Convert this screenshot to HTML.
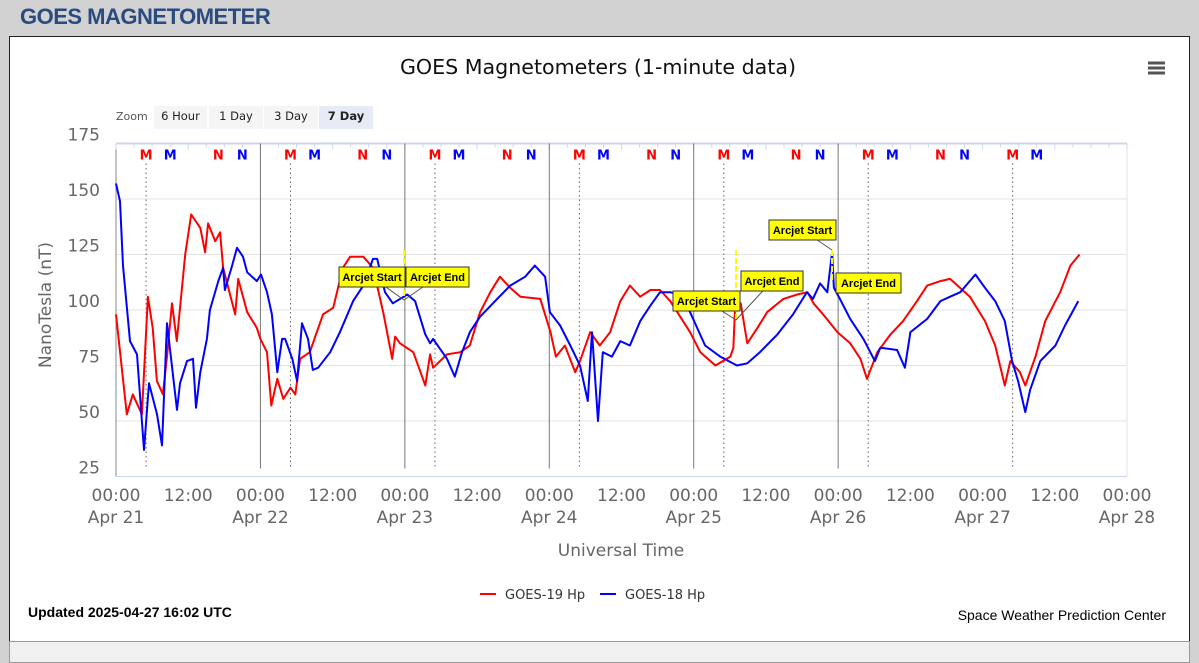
<!DOCTYPE html>
<html><head><meta charset="utf-8"><style>
body{margin:0;width:1199px;height:649px;background:#d2d2d2;overflow:hidden;font-family:"Liberation Sans",sans-serif;}
#hdr{position:absolute;left:20px;top:4px;font:bold 22px "Liberation Sans",sans-serif;color:#2a4a80;letter-spacing:-0.5px}
#panel{position:absolute;left:9px;top:36px;width:1179px;height:604px;background:#fff;border:1px solid #222;}
#bottom{position:absolute;left:9px;top:641px;width:1179px;height:20px;background:#f0f0f0;border:1px solid #999}
</style></head><body>
<div id="hdr">GOES MAGNETOMETER</div>
<div id="panel"></div>
<div id="bottom"></div>
<svg id="c" width="1199" height="649" style="position:absolute;left:0;top:0" font-family="DejaVu Sans, sans-serif"></svg>
<script>
const dayLabels=["Apr 21","Apr 22","Apr 23","Apr 24","Apr 25","Apr 26","Apr 27","Apr 28"];
const yTicks=[25,50,75,100,125,150,175];
const redT=[0,1.8,2.8,4.3,5.3,6.1,6.8,7.8,8.5,9.3,10.1,11.5,12.5,14.0,14.8,15.3,16.5,17.3,17.8,19.8,20.3,21.8,23.4,24.0,25.1,25.8,26.8,27.8,29.0,29.8,30.6,32.2,34.4,36.1,37.7,38.9,41.1,42.7,44.4,45.9,46.4,47.2,49.4,51.4,52.2,52.7,55.0,57.2,58.8,60.5,62.2,63.8,65.5,67.2,70.5,72.2,73.1,74.6,76.3,77.1,78.8,80.4,82.1,83.8,85.4,87.1,88.8,90.4,92.1,95.4,97.1,99.6,102.1,102.6,102.9,103.8,104.9,106.6,108.2,110.9,113.2,114.9,115.9,117.5,119.9,122.0,123.7,124.8,126.5,128.7,130.8,133.1,134.8,137.0,138.6,141.9,144.4,146.1,147.7,148.6,150.2,151.1,152.8,154.4,156.9,158.6,160.1];
const redV=[98,53,62,53,106,92,68,62,80,103,86,125,143,137,126,139,131,135,119,98,114,99,92,87,81,57,69,60,65,62,78,81,98,101,119,124,124,119,99,78,88,85,81,66,80,74,80,81,84,99,108,115,110,106,105,90,79,84,72,77,90,84,90,104,111,106,109,109,104,90,81,75,79,83,103,103,85,92,99,105,107,108,103,98,90,85,78,69,81,89,95,104,111,113,114,106,95,84,66,77,72,66,79,95,108,120,125];
const blueT=[0,0.66,1.16,2.33,3.49,4.65,5.48,6.81,7.65,8.48,10.14,10.64,11.8,12.8,13.3,14.0,15.1,15.6,17.0,17.8,18.1,19.3,20.1,21.1,21.8,23.4,24.1,25.1,25.9,26.8,27.6,28.1,29.3,30.1,30.9,31.9,32.7,33.6,35.6,37.2,39.4,41.1,42.7,43.4,44.7,46.0,48.4,49.7,51.4,52.2,52.7,55.0,56.3,57.5,58.8,60.5,63.0,65.5,68.0,69.6,71.3,72.1,73.8,75.5,77.1,78.4,79.1,80.1,80.9,82.4,83.8,85.4,87.1,88.8,90.4,92.1,93.7,95.4,97.9,100.4,103.2,104.9,107.0,109.9,112.5,114.8,115.8,117.0,118.2,119.0,119.3,120.3,122.0,124.2,126.1,127.0,129.8,131.1,132.0,134.8,137.0,138.6,140.3,142.8,144.4,146.1,147.7,148.9,149.9,151.1,151.9,153.6,156.1,157.7,159.9];
const blueV=[157,149,120,86,80,37,67,53,39,94,55,67,77,78,56,72,87,100,113,119,109,120,128,124,117,113,116,108,98,72,87,87,78,68,94,87,73,74,81,90,104,111,123,123,108,103,107,104,89,85,87,78,70,81,90,97,104,111,115,120,115,99,93,84,75,59,90,50,81,79,86,84,95,102,108,108,107,99,84,79,75,76,81,89,98,108,105,112,108,126,110,105,96,87,77,83,82,74,90,96,104,106,108,116,110,104,95,77,68,54,64,77,84,93,104];
const x0=116,x1=1127,yTop=143.5,yBot=476.5;
const X=h=>x0+(x1-x0)*h/168;
const Y=v=>yBot-(yBot-yTop)*(v-25)/150;
const svg=document.getElementById('c');const NS='http://www.w3.org/2000/svg';
function mk(t,a,p){const e=document.createElementNS(NS,t);for(const k in a)e.setAttribute(k,a[k]);(p||svg).appendChild(e);return e;}
let e=mk('text',{x:598,y:74,'text-anchor':'middle','font-size':20.6,fill:'#111'});e.textContent='GOES Magnetometers (1-minute data)';

const hb=mk('g',{});
[63,68,73].forEach(y=>mk('rect',{x:1148,y:y-1.5,width:17,height:3,fill:'#555'},hb));
e=mk('text',{x:116,y:120,'font-size':11,fill:'#555'});e.textContent='Zoom';
[["6 Hour",154,53],["1 Day",209,54],["3 Day",264,54],["7 Day",319,54]].forEach((b,i)=>{const g=mk('g',{});

mk('rect',{x:b[1],y:106,width:b[2],height:23,fill:i==3?'#e6ebf5':'#f5f5f5'},g);
const t=mk('text',{x:b[1]+b[2]/2,y:120,'text-anchor':'middle','font-size':11.5,fill:'#222','font-weight':i==3?'bold':'normal'},g);t.textContent=b[0];});
yTicks.forEach(v=>{if(v>25&&v<175){const l=mk('line',{x1:x0,x2:x1,y1:Y(v),y2:Y(v),stroke:'#e3e3e3'});}
const t=mk('text',{x:100,y:Y(v)-3,'text-anchor':'end','font-size':17,fill:'#666'});t.textContent=v;});
mk('line',{x1:x0,x2:x1,y1:yTop,y2:yTop,stroke:'#ccd6eb','stroke-width':2});
mk('line',{x1:x1,x2:x1,y1:yTop,y2:yBot,stroke:'#e3e3e3'});
mk('line',{x1:x0,x2:x0,y1:yTop,y2:yBot,stroke:'#888'});
mk('line',{x1:x0,x2:x1,y1:yBot,y2:yBot,stroke:'#ccd6eb'});
for(let h=0;h<=168;h+=3){mk('line',{x1:X(h),x2:X(h),y1:yTop,y2:yTop+(h%12==0?6:4),stroke:'#ccd6eb'});}
for(let d=0;d<7;d++){
 if(d>0&&d<6){const l=mk('line',{x1:X(d*24),x2:X(d*24),y1:yTop,y2:yBot-8,stroke:'#777'});}
 mk('line',{x1:X(d*24+5),x2:X(d*24+5),y1:yTop+20,y2:yBot-8,stroke:'#666','stroke-dasharray':'1.5,3'});
 const ms=[[5,'M','#f00'],[9,'M','#00f'],[17,'N','#f00'],[21,'N','#00f']];
 ms.forEach(m=>{if(d==6&&m[1]=='N')return;const t=mk('text',{x:X(d*24+m[0]),y:yTop+16,'text-anchor':'middle','font-size':13,'font-weight':'bold',fill:m[2]});t.textContent=m[1];
 });
}
for(let h=0;h<=168;h+=12){const t=mk('text',{x:X(h),y:501,'text-anchor':'middle','font-size':17,fill:'#666'});t.textContent=h%24==0?'00:00':'12:00';

if(h%24==0){const u=mk('text',{x:X(h),y:523,'text-anchor':'middle','font-size':17,fill:'#666'});u.textContent=dayLabels[h/24];}}
e=mk('text',{x:621,y:556,'text-anchor':'middle','font-size':17,fill:'#666'});e.textContent='Universal Time';
e=mk('text',{x:0,y:0,'text-anchor':'middle','font-size':17,fill:'#666',transform:'translate(51,305) rotate(-90)'});e.textContent='NanoTesla (nT)';
function line(T,V,c,n){const p=mk('path',{d:T.map((t,i)=>(i?'L':'M')+X(t).toFixed(1)+','+Y(V[i]).toFixed(1)).join(''),fill:'none',stroke:c,'stroke-width':2,'stroke-linejoin':'round'});
}
line(redT,redV,'#f00','series-goes19');line(blueT,blueV,'#00f','series-goes18');
[[404,250,300],[736,250,320],[832,250,282]].forEach(a=>mk('line',{x1:a[0],x2:a[0],y1:a[1],y2:a[2],stroke:'#ff0','stroke-width':2,'stroke-dasharray':'6,2'}));
const flags=[[339,267,66,'Arcjet Start',404,300],[406,267,63,'Arcjet End',404,300],[673,291,67,'Arcjet Start',736,320],[741,271,62,'Arcjet End',736,320],[769,220,67,'Arcjet Start',832,250],[836,273,65,'Arcjet End',836,290]];
flags.forEach(f=>{const g=mk('g',{});
mk('line',{x1:f[0]+f[2]/2,y1:f[1]+10,x2:f[4],y2:f[5],stroke:'#555'},g);
mk('rect',{x:f[0],y:f[1],width:f[2],height:20,fill:'#ff0',stroke:'#333'},g);
const t=mk('text',{x:f[0]+f[2]/2,y:f[1]+14,'text-anchor':'middle','font-size':11,'font-weight':'bold',fill:'#000','font-family':'Liberation Sans, sans-serif'},g);t.textContent=f[3];});
[[480,'#f00','GOES-19 Hp','legend-goes19'],[600,'#00f','GOES-18 Hp','legend-goes18']].forEach(l=>{const g=mk('g',{});
mk('line',{x1:l[0],x2:l[0]+16,y1:594,y2:594,stroke:l[1],'stroke-width':2},g);const t=mk('text',{x:l[0]+25,y:599,'font-size':13,fill:'#333'},g);t.textContent=l[2];});
e=mk('text',{x:28,y:617,'font-size':14,'font-weight':'bold',fill:'#000','font-family':'Liberation Sans, sans-serif'});e.textContent='Updated 2025-04-27 16:02 UTC';
e=mk('text',{x:1166,y:620,'text-anchor':'end','font-size':14,fill:'#000','font-family':'Liberation Sans, sans-serif'});e.textContent='Space Weather Prediction Center';
</script></body></html>
